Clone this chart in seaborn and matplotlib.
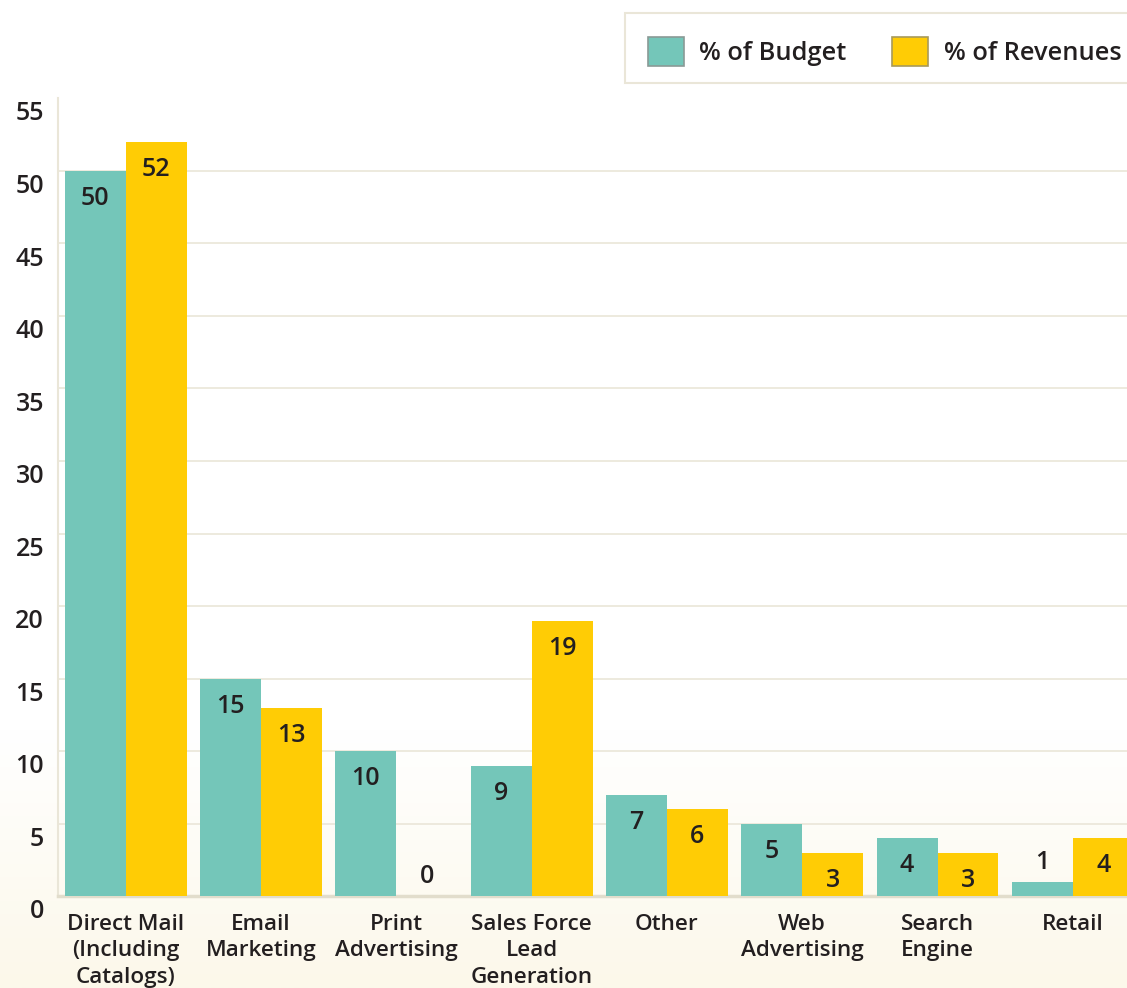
import numpy as np
import pandas as pd
import matplotlib
matplotlib.use("Agg")
import matplotlib.pyplot as plt
import matplotlib.transforms as mtransforms
from matplotlib.patches import Patch, Rectangle
from matplotlib.colors import LinearSegmentedColormap
import seaborn as sns

categories = [
    "Direct Mail\n(Including\nCatalogs)",
    "Email\nMarketing",
    "Print\nAdvertising",
    "Sales Force\nLead\nGeneration",
    "Other",
    "Web\nAdvertising",
    "Search\nEngine",
    "Retail",
]
budget = [50, 15, 10, 9, 7, 5, 4, 1]
revenues = [52, 13, 0, 19, 6, 3, 3, 4]
series_names = ["% of Budget", "% of Revenues"]
y_ticks = [0, 5, 10, 15, 20, 25, 30, 35, 40, 45, 50, 55]

TEAL = "#74C6B9"
GOLD = "#FFCC05"
INK = "#231F20"
GRID = "#EAE6D8"
WEIGHT = "semibold"

sns.set_theme(style="white")
plt.rcParams["font.family"] = ["Open Sans", "DejaVu Sans"]

df = pd.DataFrame({
    "category": categories * 2,
    "series": [series_names[0]] * len(categories) + [series_names[1]] * len(categories),
    "value": budget + revenues,
})

W, H = 1127, 988
fig = plt.figure(figsize=(W / 100, H / 100), dpi=100)

# soft cream wash towards the bottom of the canvas
bg = fig.add_axes([0, 0, 1, 1], zorder=-10)
grad = np.clip((np.linspace(0, 1, 400) - 0.74) / 0.26, 0, 1)[:, None]
cmap = LinearSegmentedColormap.from_list("wash", ["#FFFFFF", "#FCF8EA"])
bg.imshow(grad, aspect="auto", cmap=cmap, extent=[0, 1, 0, 1], origin="upper", vmin=0, vmax=1)
bg.axis("off")

x0, x1 = 58 / W, 1.0
y0, y1 = 1 - 896 / H, 1 - 98.5 / H
ax = fig.add_axes([x0, y0, x1 - x0, y1 - y0])
ax.set_facecolor("none")

sns.barplot(data=df, x="category", y="value", hue="series",
            palette=[TEAL, GOLD], width=0.9, gap=0, saturation=1,
            linewidth=0, legend=False, ax=ax, zorder=3)

ax.set_ylim(0, 55)
ax.set_xlim(-0.5, 7.40)
ax.set_yticks(y_ticks)
ax.set_xlabel("")
ax.set_ylabel("")

for v in y_ticks[1:-1]:
    ax.axhline(v, color=GRID, lw=1.2, zorder=1)

for side in ["top", "right"]:
    ax.spines[side].set_visible(False)
ax.spines["left"].set_color(GRID)
ax.spines["left"].set_linewidth(1.5)
ax.spines["bottom"].set_color("#E2DDCC")
ax.spines["bottom"].set_linewidth(2.5)

ax.tick_params(axis="y", length=0, pad=10, labelsize=18, labelcolor=INK)
ax.tick_params(axis="x", length=0, pad=13, labelsize=16.2, labelcolor=INK)
shift_down = mtransforms.ScaledTranslation(0, -0.125, fig.dpi_scale_trans)
for lab in ax.get_yticklabels():
    lab.set_fontweight(WEIGHT)
    lab.set_transform(lab.get_transform() + shift_down)
for lab in ax.get_xticklabels():
    lab.set_fontweight(WEIGHT)
    lab.set_linespacing(1.33)

# value labels: inside the bar top, or just above very short bars
for container, vals in zip(ax.containers, [budget, revenues]):
    for rect, v in zip(container, vals):
        cx = rect.get_x() + rect.get_width() / 2
        dy = -20 if v > 1 else 14
        ax.annotate(f"{v}", (cx, v), xytext=(0, dy), textcoords="offset points",
                    ha="center", va="center", fontsize=18, fontweight=WEIGHT,
                    color=INK, zorder=5)

# legend panel
fig.patches.append(Rectangle((625 / W, 1 - 83 / H), 520 / W, 70 / H,
                             transform=fig.transFigure, facecolor="white",
                             edgecolor=GRID, lw=1.5, zorder=1))
handles = [Patch(facecolor=TEAL, edgecolor="#8A9A96", lw=1.2),
           Patch(facecolor=GOLD, edgecolor="#A89A5A", lw=1.2)]
leg = fig.legend(handles, series_names, loc="center left",
                 bbox_to_anchor=(648 / W, 1 - 51.5 / H), ncol=2, frameon=False,
                 prop={"size": 18.3, "weight": WEIGHT}, handlelength=1.42,
                 handleheight=1.42, handletextpad=0.6, columnspacing=1.8,
                 borderpad=0, borderaxespad=0)
for t in leg.get_texts():
    t.set_color(INK)

fig.savefig("out.png", dpi=100)
